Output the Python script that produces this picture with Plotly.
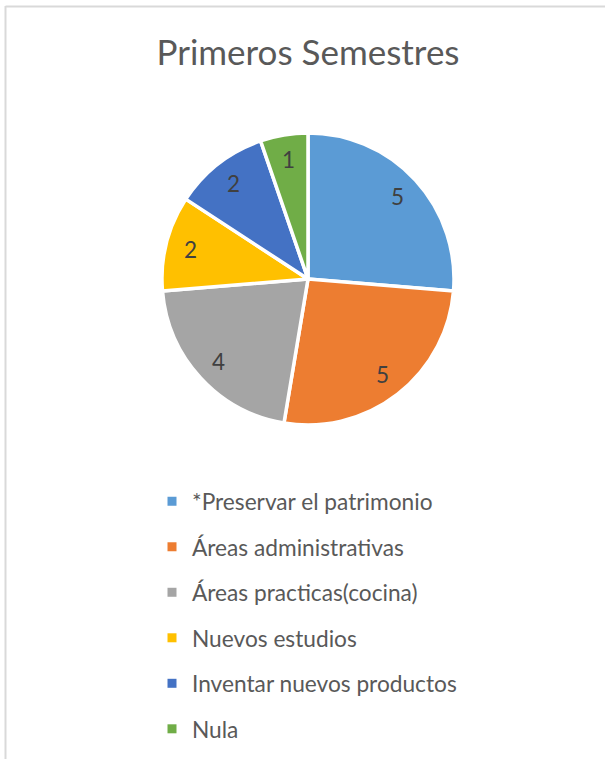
import numpy as np
import plotly.graph_objects as go

# ---- data ----
title_text = "Primeros Semestres"
labels = [
    "*Preservar el patrimonio",
    "Áreas administrativas",
    "Áreas practicas(cocina)",
    "Nuevos estudios",
    "Inventar nuevos productos",
    "Nula",
]
values = [5, 5, 4, 2, 2, 1]
colors = ["#5B9BD5", "#ED7D31", "#A5A5A5", "#FFC000", "#4472C4", "#70AD47"]

# ---- layout geometry ----
W, H = 605, 759
CX, CY, R = 308, 279, 146
dom_x = [(CX - R) / W, (CX + R) / W]
dom_y = [1 - (CY + R) / H, 1 - (CY - R) / H]
FONT = "Lato"

fig = go.Figure()
fig.add_trace(go.Pie(
    labels=labels, values=values, sort=False, direction="clockwise", rotation=0,
    marker=dict(colors=colors, line=dict(color="white", width=3.5)),
    textinfo="none", showlegend=False, hoverinfo="label+value",
    domain=dict(x=dom_x, y=dom_y),
))

# legend entries (one group each so spacing can be set)
for i, (lab, col) in enumerate(zip(labels, colors)):
    fig.add_trace(go.Scatter(
        x=[None], y=[None], mode="markers", name=lab, legendgroup=f"g{i}",
        marker=dict(symbol="square", size=9, color=col), hoverinfo="skip",
    ))

# data labels placed along each slice bisector via the axes
total = sum(values)
cum = np.cumsum([0] + values)
mid = (cum[:-1] + cum[1:]) / 2 / total * 2 * np.pi
LR = 0.83
for v, a in zip(values, mid):
    fig.add_annotation(
        x=LR * np.sin(a), y=LR * np.cos(a), xref="x", yref="y",
        text=str(v), showarrow=False,
        font=dict(family=FONT, size=22.5, color="#404040"),
        xanchor="center", yanchor="middle",
    )

fig.update_layout(
    width=W, height=H,
    margin=dict(l=0, r=0, t=0, b=0),
    paper_bgcolor="white", plot_bgcolor="rgba(0,0,0,0)",
    title=dict(text=title_text, x=CX / W, xanchor="center", xref="paper",
               y=1 - 53 / H, yanchor="middle", yref="container",
               font=dict(family=FONT, size=35, color="#595959")),
    xaxis=dict(domain=dom_x, range=[-1, 1], visible=False, fixedrange=True),
    yaxis=dict(domain=dom_y, range=[-1, 1], visible=False, fixedrange=True),
    showlegend=True,
    legend=dict(x=152 / W, xanchor="left", y=1 - 480 / H, yanchor="top",
                tracegroupgap=13, font=dict(family=FONT, size=22.7, color="#595959"),
                bgcolor="rgba(0,0,0,0)", itemclick=False, itemdoubleclick=False),
    shapes=[
        dict(type="line", xref="paper", yref="paper", x0=5.5 / W, x1=5.5 / W,
             y0=0, y1=1 - 6 / H, line=dict(color="#D9D9D9", width=2)),
        dict(type="line", xref="paper", yref="paper", x0=5.5 / W, x1=1,
             y0=1 - 6.5 / H, y1=1 - 6.5 / H, line=dict(color="#D9D9D9", width=2)),
    ],
)

fig.write_html(
    "out.html",
    config={"displayModeBar": False},
    post_script="document.body.style.margin='0';document.body.style.overflow='hidden';",
)
